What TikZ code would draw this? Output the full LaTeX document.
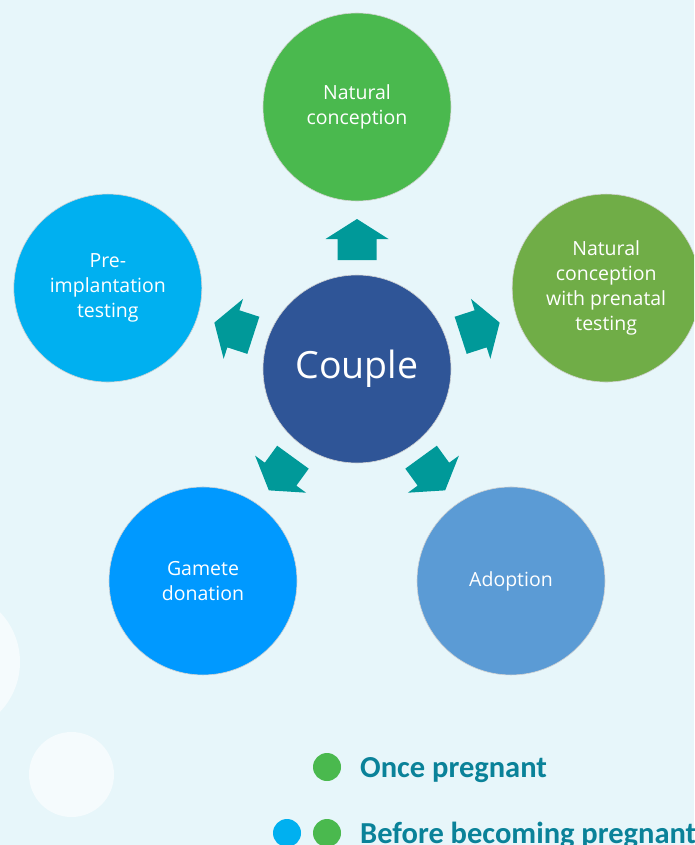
\documentclass[tikz,border=0pt]{standalone}
\usepackage{fontspec}
\setmainfont{Open Sans}
\newfontfamily\legendfont{Carlito}
\usetikzlibrary{calc}

\definecolor{fond}{HTML}{E7F6FA}
\definecolor{blanc}{HTML}{F5FBFD}
\definecolor{naturel}{HTML}{4AB94E}
\definecolor{implant}{HTML}{00B0F0}
\definecolor{prenatal}{HTML}{70AD47}
\definecolor{pareja}{HTML}{2F5597}
\definecolor{gamete}{HTML}{0099FF}
\definecolor{adoption}{HTML}{5B9BD5}
\definecolor{sarcelle}{HTML}{009999}
\definecolor{legtext}{HTML}{0A8299}

\tikzset{%
  bulle/.style={circle, draw=gray!35, line width=0.6pt, minimum size=188pt, inner sep=0pt, text=white, align=center, font=\fontsize{19.5}{25}\selectfont},
  centre/.style={bulle, font=\fontsize{37.5}{44}\selectfont},
  fleche/.style={fill=sarcelle},
  deco/.style={fill=blanc},
  pastille/.style={circle, minimum size=28pt, inner sep=0pt},
  legende/.style={anchor=base west, inner sep=0pt, text=legtext, font=\legendfont\bfseries\fontsize{30.5}{36}\selectfont},
}

\begin{document}
\begin{tikzpicture}[x=1pt,y=1pt]
\useasboundingbox (0,0) rectangle (694,-845);
\clip (0,0) rectangle (694,-845);
\fill[fond] (0,0) rectangle (694,-845);
% light discs in the background
\fill[deco] (-52,-662) circle (72);
\fill[deco] (71.5,-774.5) circle (42.5);

\node[centre, fill=pareja] (couple) at (357,-369) {Couple};
\node[bulle, fill=naturel] (natural) at ($(couple)+(90:262)$) {Natural\\conception};
\node[bulle, fill=prenatal] (prenatal) at ($(couple)+(18:262)$) {Natural\\conception\\with prenatal\\testing};
\node[bulle, fill=implant] (pgt) at ($(couple)+(162:262)$) {Pre-\\implantation\\testing};
\node[bulle, fill=gamete] (gamete) at ($(couple)+(234:262)$) {Gamete\\donation};
\node[bulle, fill=adoption] (adoption) at ($(couple)+(306:262)$) {Adoption};

% block arrows going out of the couple
\foreach \ang in {90,18,162,234,306}
  \fill[fleche, shift={(couple.center)}, rotate=\ang]
    (109,-19.5) -- (130,-19.5) -- (130,-31.5) -- (150,0) -- (130,31.5) -- (130,19.5) -- (109,19.5) -- cycle;

% legend
\node[pastille, fill=naturel] (dotonce) at (327,-767) {};
\node[legende] (legonce) at (360,-777) {Once pregnant};
\node[pastille, fill=implant] (dotbeforeA) at (287,-833) {};
\node[pastille, fill=naturel] (dotbeforeB) at (327,-833) {};
\node[legende] (legbefore) at (360,-843) {Before becoming pregnant};
\end{tikzpicture}
\end{document}
